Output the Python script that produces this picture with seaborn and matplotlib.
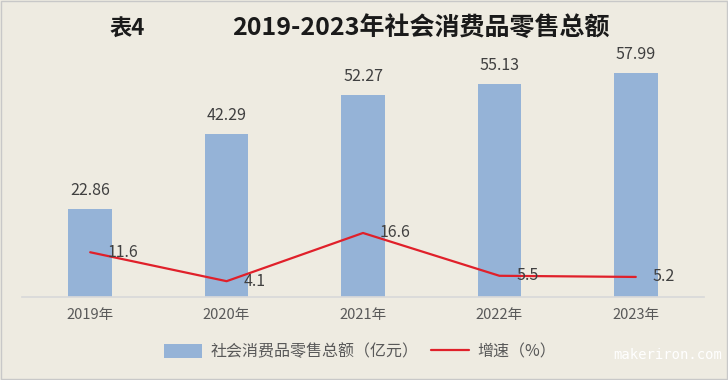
import matplotlib
matplotlib.use("Agg")
import matplotlib.pyplot as plt
import seaborn as sns
import pandas as pd

# data
years = ["2019年", "2020年", "2021年", "2022年", "2023年"]
retail_sales = [22.86, 42.29, 52.27, 55.13, 57.99]
growth_rate = [11.6, 4.1, 16.6, 5.5, 5.2]

sns.set_theme(style="white")
plt.rcParams["font.family"] = ["Noto Sans CJK SC", "DejaVu Sans"]

bg = "#EEEBE1"
bar_color = "#95B3D7"
line_color = "#E0202A"
text_color = "#595959"

df = pd.DataFrame({"year": years, "sales": retail_sales, "growth": growth_rate})

fig = plt.figure(figsize=(7.28, 3.8), dpi=100, facecolor=bg)
ax = fig.add_axes([22 / 728, 1 - 297 / 380, (704 - 22) / 728, (297 - 27) / 380])
ax.set_facecolor(bg)

sns.barplot(data=df, x="year", y="sales", color=bar_color, width=0.32,
            saturation=1, linewidth=0, ax=ax, label="社会消费品零售总额（亿元）")
sns.lineplot(x=range(len(years)), y=growth_rate, color=line_color, lw=1.6,
             ax=ax, label="增速（%）")

ax.set_xlim(-0.5, 4.5)
ax.set_ylim(0, 70)
ax.set_xlabel("")
ax.set_ylabel("")
ax.set_yticks([])
for s in ["top", "left", "right"]:
    ax.spines[s].set_visible(False)
ax.spines["bottom"].set_color("#D9D9D9")
ax.tick_params(axis="x", length=0, pad=8, labelsize=10.5, labelcolor=text_color)

# value labels
for i, v in enumerate(retail_sales):
    ax.annotate(f"{v:.2f}", (i, v), xytext=(0, 10), textcoords="offset pixels",
                ha="center", va="bottom", fontsize=11.5, color="#404040")
for i, v in enumerate(growth_rate):
    ax.annotate(f"{v}", (i, v), xytext=(17, 0), textcoords="offset pixels",
                ha="left", va="center", fontsize=11.5, color="#404040")

handles, labels = ax.get_legend_handles_labels()
order = sorted(range(len(labels)), key=lambda k: 0 if "亿元" in labels[k] else 1)
ax.legend([handles[k] for k in order], [labels[k] for k in order],
          loc="center", bbox_to_anchor=(360 / 728, 1 - 352 / 380),
          bbox_transform=fig.transFigure,
          ncol=2, frameon=False, fontsize=11.5, labelcolor=text_color,
          handlelength=2.4, handleheight=0.9, columnspacing=0.8, handletextpad=0.5)

# title
fig.text(127 / 728, 1 - 28 / 380, "表4", ha="center", va="center",
         fontsize=16, fontweight="bold", color="#1a1a1a")
fig.text(421 / 728, 1 - 28 / 380, "2019-2023年社会消费品零售总额", ha="center",
         va="center", fontsize=18, fontweight="bold", color="#1a1a1a")

# watermark
fig.text(722 / 728, 1 - 355 / 380, "makeriron.com", ha="right", va="center",
         fontsize=10, color="white", family="DejaVu Sans Mono")

# border
fig.patches.append(plt.Rectangle((0.002, 0.003), 0.996, 0.994, transform=fig.transFigure,
                                 fill=False, edgecolor="#C8C8C8", lw=1))

fig.savefig("out.png", dpi=100, facecolor=bg)
